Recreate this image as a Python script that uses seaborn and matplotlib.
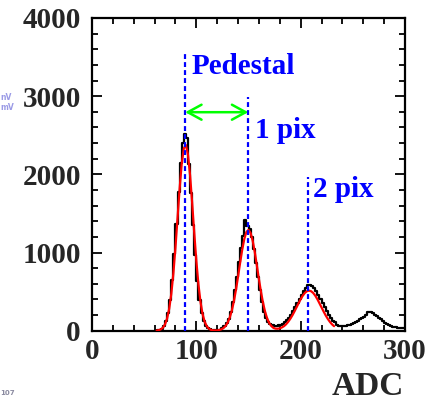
import numpy as np
import pandas as pd
import seaborn as sns
import matplotlib.pyplot as plt

# ADC spectrum, 2-ADC bins (bin centres 61 ... 299)
bin_width = 2
bin_centers = list(range(61, 300, 2))
counts = [
    2, 5, 12, 28, 60, 122, 228, 398, 650, 985,
    1370, 1775, 2140, 2395, 2510, 2460, 2130, 1760, 1355, 965,
    640, 392, 226, 121, 62, 32, 18, 12, 10, 9,
    10, 14, 30, 55, 95, 155, 245, 362, 515, 690,
    875, 1055, 1205, 1410, 1345, 1300, 1195, 1045, 870, 685,
    515, 365, 245, 160, 110, 85, 70, 65, 66, 70,
    72, 88, 110, 135, 168, 205, 250, 300, 355, 408,
    460, 505, 540, 586, 588, 575, 540, 505, 460, 408,
    355, 300, 250, 205, 165, 130, 105, 75, 62, 58,
    60, 62, 68, 75, 88, 100, 115, 130, 148, 160,
    180, 205, 235, 244, 225, 200, 185, 165, 145, 125,
    100, 82, 68, 55, 48, 42, 40, 38, 36, 34,
]

# Fitted multi-peak curve, sampled every 2 ADC
fit_x = list(range(62, 233, 2))
fit_y = [
    3, 7, 18, 39, 81, 157, 281, 471, 735, 1067,
    1444, 1819, 2135, 2333, 2375, 2251, 1988, 1634, 1252, 893,
    594, 368, 212, 114, 57, 26, 11, 5, 4, 4,
    9, 18, 33, 60, 103, 167, 257, 377, 525, 694,
    871, 1038, 1175, 1263, 1290, 1250, 1151, 1007, 836, 659,
    494, 351, 237, 152, 95, 58, 35, 26, 25, 30,
    42, 58, 82, 113, 151, 195, 245, 298, 351, 403,
    448, 483, 505, 513, 505, 483, 448, 403, 351, 298,
    245, 195, 151, 113, 82, 58,
]

# Peak positions (pedestal, 1 pixel, 2 pixels) and marker heights
peak_labels = ["Pedestal", "1 pix", "2 pix"]
peak_adc = [89.3, 149.8, 207.5]
peak_line_top = [3560, 2990, 1970]
label_pos = [(95.8, 3385), (156.3, 2560), (212.0, 1810)]
gain_arrow_y = 2795

x_ticks = [0, 100, 200, 300]
y_ticks = [0, 1000, 2000, 3000, 4000]

sns.set_style("ticks")
serif = ["Liberation Serif", "DejaVu Serif"]
plt.rcParams["font.family"] = serif
plt.rcParams["font.weight"] = "bold"

fig = plt.figure(figsize=(4.4, 4.03), dpi=100)
ax = fig.add_axes([92 / 440, 72.3 / 403, 313 / 440, 312.7 / 403])

hist_df = pd.DataFrame({"adc": bin_centers, "n": counts})
lo = bin_centers[0] - bin_width / 2
hi = bin_centers[-1] + bin_width / 2
sns.histplot(data=hist_df, x="adc", weights="n", binwidth=bin_width,
             binrange=(lo, hi), element="step", fill=False, color="black",
             linewidth=1.6, ax=ax, zorder=2)

fit_df = pd.DataFrame({"adc": fit_x, "fit": fit_y})
sns.lineplot(data=fit_df, x="adc", y="fit", color="red", linewidth=1.6,
             ax=ax, zorder=3)

blue = "#0000ff"
for xp, top in zip(peak_adc, peak_line_top):
    ax.vlines(xp, 0, top, colors=blue, linewidth=1.6,
              linestyles=(0, (2.2, 1.4)), zorder=4)

for txt, (tx, ty) in zip(peak_labels, label_pos):
    ax.text(tx, ty, txt, color=blue, fontsize=21, fontweight="bold",
            ha="left", va="center", family=serif, zorder=5)

ax.annotate("", xy=(peak_adc[1], gain_arrow_y),
            xytext=(peak_adc[0], gain_arrow_y),
            arrowprops=dict(arrowstyle="<->,head_length=0.55,head_width=0.3",
                            color="#00ff00", lw=1.8, mutation_scale=18,
                            shrinkA=0, shrinkB=0),
            zorder=5)

ax.set_xlim(0, 300)
ax.set_ylim(0, 4000)
ax.set_xticks(x_ticks)
ax.set_yticks(y_ticks)
ax.set_xticks(np.arange(0, 301, 20), minor=True)
ax.set_yticks(np.arange(0, 4001, 200), minor=True)
ax.set_xticklabels([str(v) for v in x_ticks])
ax.set_yticklabels([str(v) for v in y_ticks])
ax.tick_params(which="both", direction="in", top=True, right=True,
               width=1.3, color="black")
ax.tick_params(which="major", length=7, labelsize=21, pad=5)
ax.tick_params(which="minor", length=4)
ax.tick_params(axis="y", which="major", pad=8)
for lab in ax.get_xticklabels() + ax.get_yticklabels():
    lab.set_fontweight("bold")
    lab.set_family(serif)
for sp in ax.spines.values():
    sp.set_linewidth(1.6)
    sp.set_color("black")

ax.set_ylabel("")
ax.set_xlabel("")
# axis title, right-aligned under the frame
fig.text(404 / 440, 1 - 395 / 403, "ADC", fontsize=24, fontweight="bold",
         family=serif, ha="right", va="baseline")

# faint fragments at the left edge of the figure
fig.text(0.0, 1 - 97 / 403, "nV", fontsize=5.5, color="#9b9be6",
         ha="left", va="center", family="DejaVu Sans")
fig.text(0.0, 1 - 107 / 403, "mV", fontsize=5.5, color="#9b9be6",
         ha="left", va="center", family="DejaVu Sans")
fig.text(0.0, 1 - 393 / 403, "107", fontsize=5, color="#8a8aa0",
         ha="left", va="center", family="DejaVu Sans", fontweight="bold")

fig.savefig("out.png", dpi=100)
